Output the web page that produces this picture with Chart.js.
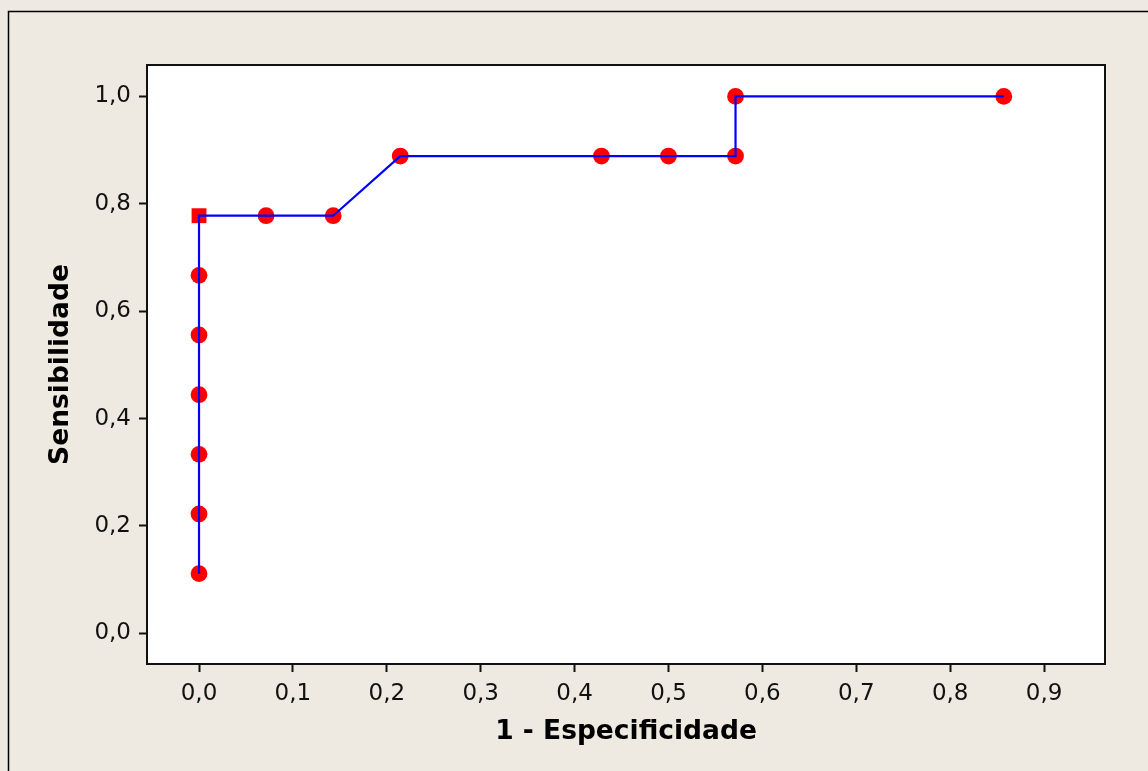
<!DOCTYPE html>
<html>
<head>
<meta charset="utf-8">
<script src="https://cdn.jsdelivr.net/npm/chart.js@4/dist/chart.umd.min.js"></script>
<style>
  html, body { margin: 0; padding: 0; background: #EEEAE1; }
  canvas { display: block; }
</style>
</head>
<body>
<canvas id="roc" width="1148" height="771"></canvas>
<script>
// ROC curve: 1 - specificity (x) against sensitivity (y)
const falsePositiveRate = [0, 0, 0, 0, 0, 0, 0, 0.0714, 0.1429, 0.2143, 0.4286, 0.5, 0.5714, 0.5714, 0.8571];
const sensitivity = [0.1111, 0.2222, 0.3333, 0.4444, 0.5556, 0.6667, 0.7778, 0.7778, 0.7778, 0.8889, 0.8889, 0.8889, 0.8889, 1.0, 1.0];
const markerShapes = ['circle', 'circle', 'circle', 'circle', 'circle', 'circle', 'rect', 'circle', 'circle', 'circle', 'circle', 'circle', 'circle', 'circle', 'circle'];

const xTickValues = [0, 0.1, 0.2, 0.3, 0.4, 0.5, 0.6, 0.7, 0.8, 0.9];
const yTickValues = [0, 0.2, 0.4, 0.6, 0.8, 1.0];
const xTitle = '1 - Especificidade';
const yTitle = 'Sensibilidade';

const points = falsePositiveRate.map((x, i) => ({ x: x, y: sensitivity[i] }));
const decimalComma = v => Number(v).toFixed(1).replace('.', ',');

const tickFont = { family: '"DejaVu Sans", Verdana, sans-serif', size: 23, lineHeight: 1.2 };
const titleFont = { family: '"DejaVu Sans", Verdana, sans-serif', size: 26.5, weight: 'bold', lineHeight: 1.2 };

// page background, outer frame and plot-area frame
const framePlugin = {
  id: 'frames',
  beforeDraw(chart) {
    const { ctx, chartArea: a } = chart;
    ctx.save();
    ctx.fillStyle = '#EEEAE1';
    ctx.fillRect(0, 0, chart.width, chart.height);
    ctx.strokeStyle = '#000';
    ctx.lineWidth = 1.5;
    ctx.strokeRect(8.5, 11.5, chart.width + 20, chart.height + 20);
    ctx.fillStyle = '#FFFFFF';
    ctx.fillRect(a.left, a.top, a.right - a.left, a.bottom - a.top);
    ctx.restore();
  },
  afterDraw(chart) {
    const { ctx, chartArea: a } = chart;
    ctx.save();
    ctx.strokeStyle = '#111';
    ctx.lineWidth = 2;
    ctx.strokeRect(a.left, a.top, a.right - a.left, a.bottom - a.top);
    ctx.restore();
  }
};

new Chart(document.getElementById('roc'), {
  type: 'scatter',
  data: {
    datasets: [
      {
        // connecting curve, drawn above the markers
        type: 'line',
        data: points,
        showLine: true,
        fill: false,
        borderColor: '#0000FF',
        borderWidth: 2.2,
        pointRadius: 0,
        tension: 0,
        order: 0
      },
      {
        data: points,
        showLine: false,
        pointStyle: markerShapes,
        pointRadius: markerShapes.map(s => (s === 'rect' ? 10.5 : 8.4)),
        pointBackgroundColor: '#FF0000',
        pointBorderColor: '#FF0000',
        pointBorderWidth: 0,
        order: 1
      }
    ]
  },
  options: {
    responsive: false,
    animation: false,
    layout: { padding: { top: 65, right: 43, left: 0, bottom: 0 } },
    plugins: { legend: { display: false }, tooltip: { enabled: false } },
    scales: {
      x: {
        type: 'linear',
        min: -0.0554,
        max: 0.9649,
        afterFit(scale) { scale.height = 107; },
        afterBuildTicks(scale) { scale.ticks = xTickValues.map(v => ({ value: v })); },
        grid: { drawOnChartArea: false, drawTicks: true, tickLength: 8, tickWidth: 2, tickColor: '#111' },
        border: { display: false },
        ticks: { color: '#111', font: tickFont, padding: 8, maxRotation: 0, autoSkip: false, callback: decimalComma },
        title: { display: true, text: xTitle, color: '#000', font: titleFont, padding: { top: 0, bottom: 23 } }
      },
      y: {
        type: 'linear',
        min: -0.0572,
        max: 1.0585,
        afterFit(scale) { scale.width = 147; },
        afterBuildTicks(scale) { scale.ticks = yTickValues.map(v => ({ value: v })); },
        grid: { drawOnChartArea: false, drawTicks: true, tickLength: 8, tickWidth: 2, tickColor: '#111' },
        border: { display: false },
        ticks: { color: '#111', font: tickFont, padding: 8, autoSkip: false, callback: decimalComma },
        title: { display: true, text: yTitle, color: '#000', font: titleFont, padding: { top: 45, bottom: 0 } }
      }
    }
  },
  plugins: [framePlugin]
});
</script>
</body>
</html>
